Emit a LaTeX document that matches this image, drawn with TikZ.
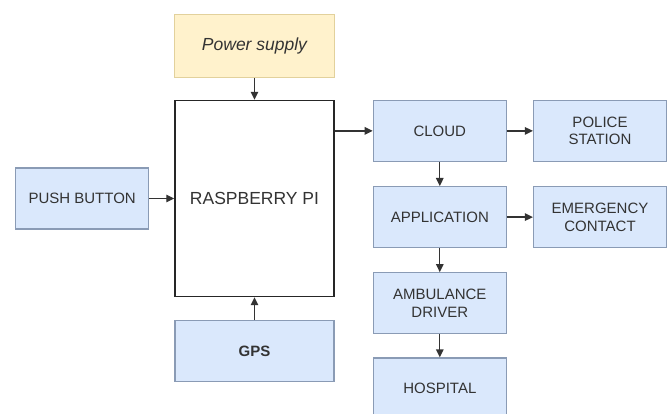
\documentclass[tikz,border=0pt]{standalone}
\usepackage{fontspec}
\setmainfont{Liberation Sans}
\usepackage{xcolor}
\usepackage{tikz}
\usetikzlibrary{positioning, arrows.meta}

\definecolor{boxblue}{HTML}{DAE8FC}
\definecolor{lineblue}{HTML}{8A9BB5}
\definecolor{boxyellow}{HTML}{FFF2CC}
\definecolor{lineyellow}{HTML}{E2D19C}
\definecolor{labelgrey}{HTML}{333333}

\begin{document}
\begin{tikzpicture}[
			x=1pt, y=1pt,
			node distance=24pt and 26pt,
			block/.style={rectangle, draw=lineblue, fill=boxblue, line width=1.2pt, minimum width=133pt, minimum height=61pt, inner sep=2pt, text centered, align=center, text=labelgrey, font=\fontsize{15}{17.5}\selectfont},
			supply/.style={block, draw=lineyellow, fill=boxyellow, minimum width=160pt, minimum height=63pt, font=\fontsize{17.5}{20}\selectfont\itshape},
			board/.style={rectangle, draw=black!85, fill=white, line width=1.4pt, minimum width=159pt, minimum height=196pt, text=labelgrey, font=\fontsize{17.5}{20}\selectfont},
			arrow/.style={line width=1.3pt, draw=black!80, -{Triangle[length=8pt, width=7.5pt]}}
			]
			\useasboundingbox (0,0) rectangle (669,-414);
			
			% Nodes
			\node[board] (rpi) at (254.5,-198.5) {RASPBERRY PI};
			\node[supply, above=22pt of rpi] (power) {Power supply};
			\node[block, left=25pt of rpi] (push) {PUSH BUTTON};
			\node[block, below=23pt of rpi, minimum width=159pt, font=\fontsize{15}{17.5}\selectfont\bfseries] (gps) {GPS};
			
			\node[block, right=38pt of rpi.north east, anchor=north west] (cloud) {CLOUD};
			\node[block, right=of cloud] (police) {POLICE\\STATION};
			\node[block, below=of cloud] (app) {APPLICATION};
			\node[block, right=of app] (contact) {EMERGENCY\\CONTACT};
			\node[block, below=of app] (driver) {AMBULANCE\\DRIVER};
			\node[block, below=23pt of driver] (hospital) {HOSPITAL};
			
			% Arrows
			\draw[arrow] (power) -- (rpi);
			\draw[arrow] (push) -- (rpi);
			\draw[arrow] (gps) -- (rpi);
			\draw[arrow] (rpi.east |- cloud) -- (cloud);
			
			\draw[arrow] (cloud) -- (police);
			\draw[arrow] (cloud) -- (app);
			\draw[arrow] (app) -- (contact);
			\draw[arrow] (app) -- (driver);
			\draw[arrow] (driver) -- (hospital);
			
		\end{tikzpicture}
\end{document}
